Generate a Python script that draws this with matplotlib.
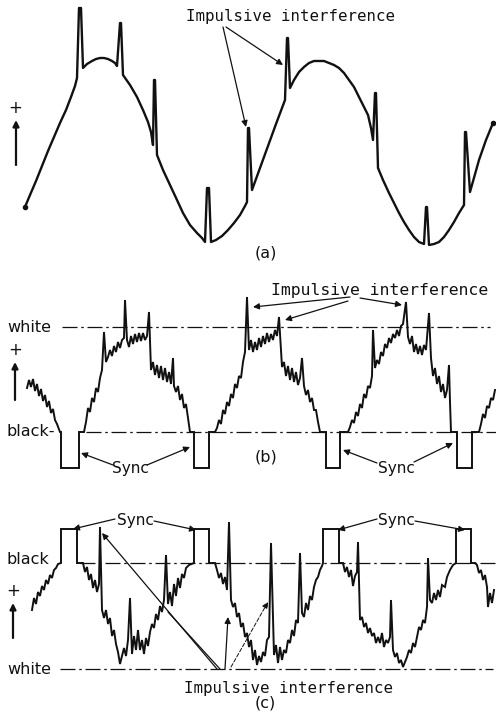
import matplotlib
matplotlib.use("Agg")
import matplotlib.pyplot as plt

# ---------------- data (page pixel coordinates) ----------------
# (a) sine wave with impulsive interference
A_pts = [(25, 207), (30, 195), (36, 181), (42, 166), (48, 151), (54, 137), (60, 123), (66, 110),
         (71, 97), (75, 86), (77, 78),
         (79, 8), (81, 8), (83, 68),
         (87, 64), (92, 61), (96, 59), (100, 58), (104, 58), (108, 59), (112, 61), (115, 63),
         (117, 66),
         (120, 23), (121, 23), (123, 75),
         (130, 85), (137, 97), (143, 110), (148, 122), (151, 132), (153, 145),
         (154, 80), (155, 80), (157, 155),
         (163, 170), (170, 185), (177, 200), (183, 213), (190, 225), (197, 233), (202, 238),
         (205, 242),
         (207, 188), (209, 188), (211, 242),
         (216, 240), (222, 236), (228, 230), (234, 223), (240, 215), (245, 206), (247, 202),
         (248, 128), (249, 128), (252, 190),
         (260, 168), (268, 146), (276, 124), (282, 108), (285, 100),
         (287, 38), (288, 38), (290, 88),
         (294, 80), (299, 72), (304, 67), (309, 63), (314, 61), (319, 61), (324, 61), (329, 63),
         (334, 65), (339, 68), (344, 73), (349, 80), (354, 87), (359, 97), (363, 105),
         (368, 115), (371, 128), (373, 140),
         (375, 93), (376, 93), (378, 168),
         (383, 180), (389, 193), (394, 203), (399, 213), (404, 222), (409, 230), (414, 237),
         (419, 242), (424, 244),
         (426, 207), (427, 207), (429, 245),
         (434, 244), (439, 242), (444, 237), (449, 230), (454, 222), (459, 213), (464, 205),
         (465, 132), (466, 132), (470, 192),
         (479, 160), (486, 140), (493, 123)]

# (b) positive video signal with sync pulses
B_pts = [(27, 388), (29, 380), (31, 387), (33, 379), (35, 391), (37, 384), (39, 396), (41, 389),
         (43, 401), (45, 395), (47, 407), (49, 401), (51, 413), (53, 409), (55, 420), (57, 424),
         (60, 432), (61, 432),
         (61, 468), (79, 468), (79, 432), (84, 432),
         (86, 422), (88, 408), (90, 412), (92, 398), (94, 402), (96, 388), (98, 392), (100, 378),
         (102, 370), (104, 332), (106, 362), (108, 357), (110, 350), (112, 356), (114, 346),
         (116, 352), (118, 342), (120, 348), (122, 340), (124, 338), (125, 300), (127, 340),
         (129, 347), (131, 336), (133, 344), (135, 334), (137, 342), (139, 333), (141, 341),
         (143, 333), (145, 340), (147, 336), (149, 312), (151, 370), (153, 362), (155, 375),
         (157, 365), (159, 378), (161, 366), (163, 380), (165, 368), (167, 382), (169, 372),
         (171, 384), (173, 358), (174, 386), (176, 392), (178, 386), (180, 400), (182, 394),
         (184, 408), (186, 404), (188, 418), (190, 432), (194, 432),
         (194, 468), (209, 468), (209, 432), (215, 432),
         (217, 428), (219, 420), (221, 424), (223, 410), (225, 414), (227, 402), (229, 406),
         (231, 394), (233, 398), (235, 384), (237, 388), (239, 376), (241, 378), (243, 362),
         (245, 352), (247, 297), (249, 350), (251, 340), (253, 352), (255, 342), (257, 350),
         (259, 338), (261, 347), (263, 336), (265, 344), (267, 333), (269, 342), (271, 334),
         (273, 340), (275, 330), (277, 336), (279, 317), (282, 367), (284, 362), (286, 376),
         (288, 366), (290, 380), (292, 368), (294, 382), (296, 372), (298, 385), (300, 378),
         (302, 358), (304, 386), (306, 395), (308, 390), (310, 402), (312, 398), (314, 410),
         (316, 410), (318, 422), (320, 432), (326, 432),
         (326, 468), (340, 468), (340, 432), (348, 432),
         (350, 427), (352, 420), (354, 423), (356, 412), (358, 416), (360, 404), (362, 408),
         (364, 394), (366, 398), (368, 386), (370, 388), (372, 376), (373, 330), (375, 368),
         (377, 360), (379, 364), (381, 352), (383, 356), (385, 344), (387, 348), (389, 338),
         (391, 343), (393, 334), (395, 338), (397, 330), (399, 336), (401, 326), (403, 324),
         (406, 302), (408, 337), (410, 344), (412, 336), (414, 352), (416, 344), (418, 354),
         (420, 346), (422, 355), (424, 345), (426, 350), (429, 313), (431, 358), (433, 376),
         (435, 368), (437, 384), (439, 376), (441, 392), (443, 384), (445, 398), (447, 390),
         (449, 365), (450, 402), (451, 432), (457, 432),
         (457, 468), (472, 468), (472, 432), (479, 432),
         (481, 424), (483, 414), (485, 418), (487, 406), (489, 408), (491, 398), (493, 400),
         (495, 390)]

# (c) negative video signal with sync pulses
C_pts = [(32, 610), (34, 598), (36, 604), (38, 592), (40, 596), (42, 586), (44, 590), (46, 580),
         (48, 584), (50, 575), (52, 578), (54, 570), (56, 568), (58, 564), (61, 563),
         (61, 529), (77, 529), (77, 563), (83, 563),
         (85, 572), (87, 567), (89, 580), (91, 574), (93, 588), (95, 580), (97, 592), (99, 584),
         (100, 527), (102, 610), (104, 618), (106, 610), (108, 624), (110, 618), (112, 636),
         (114, 630), (116, 644), (118, 652), (120, 664), (122, 656), (124, 648), (126, 656),
         (128, 640), (130, 598), (132, 654), (134, 636), (136, 650), (138, 630), (140, 650),
         (142, 640), (144, 654), (146, 638), (148, 646), (150, 632), (152, 624), (154, 628),
         (156, 614), (158, 620), (160, 606), (162, 612), (164, 600), (166, 555), (168, 604),
         (170, 592), (172, 606), (174, 584), (176, 596), (178, 578), (180, 588), (182, 574),
         (184, 578), (186, 568), (189, 565), (194, 563),
         (194, 529), (209, 529), (209, 563), (215, 563),
         (217, 570), (219, 578), (221, 573), (223, 584), (225, 577), (227, 590), (229, 522),
         (231, 600), (233, 607), (235, 603), (237, 617), (239, 613), (241, 627), (243, 623),
         (245, 637), (247, 633), (249, 647), (251, 640), (253, 660), (255, 650), (257, 665),
         (259, 656), (261, 662), (263, 652), (265, 656), (267, 640), (269, 637), (271, 543),
         (274, 655), (276, 645), (278, 663), (280, 647), (282, 660), (284, 650), (286, 653),
         (288, 640), (290, 643), (292, 630), (294, 636), (296, 620), (298, 623), (300, 553),
         (302, 613), (304, 617), (306, 603), (308, 610), (310, 596), (312, 600), (314, 587),
         (316, 580), (318, 577), (320, 570), (322, 566), (323, 563),
         (323, 529), (339, 529), (339, 563), (343, 563),
         (345, 572), (347, 567), (349, 577), (351, 570), (353, 586), (355, 576), (357, 572),
         (358, 542), (360, 620), (362, 617), (364, 627), (366, 623), (368, 633), (370, 628),
         (372, 636), (374, 633), (376, 643), (378, 637), (380, 643), (382, 633), (384, 647),
         (386, 640), (388, 643), (390, 637), (391, 600), (393, 650), (395, 657), (397, 653),
         (399, 663), (401, 660), (403, 667), (405, 662), (407, 657), (409, 650), (411, 653),
         (413, 643), (415, 647), (417, 637), (419, 627), (421, 630), (423, 620), (425, 623),
         (427, 607), (428, 558), (430, 600), (432, 603), (434, 593), (436, 600), (438, 590),
         (440, 597), (442, 585), (445, 587), (447, 577), (450, 570), (453, 565), (456, 563),
         (456, 529), (471, 529), (471, 563), (475, 563),
         (477, 565), (479, 573), (481, 570), (483, 580), (485, 575), (487, 587), (488, 607),
         (490, 593), (492, 603), (494, 590)]

# reference levels (y) and their x extents
B_white = (62, 490, 327)
B_black = (86, 496, 432)
C_black = (80, 496, 563)
C_white = (60, 493, 669)

# ---------------- drawing ----------------
fig = plt.figure(figsize=(4.96, 7.15), dpi=100)
ax = fig.add_axes([0, 0, 1, 1])
ax.set_xlim(0, 496)
ax.set_ylim(715, 0)
ax.axis('off')

K = '#111111'
MONO = 'DejaVu Sans Mono'

# clipped running text at the very top of the page (only its lower edge is visible)
ax.text(-2, 0.0, "ated of the basis.", fontsize=12, family='DejaVu Serif',
        fontweight='bold', va='baseline', ha='left', color=K)

# panel (a)
ax.plot([p[0] for p in A_pts], [p[1] for p in A_pts], color=K, lw=1.7,
        solid_joinstyle='round', solid_capstyle='round')
ax.plot([A_pts[0][0], A_pts[-1][0]], [A_pts[0][1], A_pts[-1][1]], 'o', color=K, ms=3)

# panels (b), (c)
for pts in (B_pts, C_pts):
    ax.plot([p[0] for p in pts], [p[1] for p in pts], color=K, lw=1.4,
            solid_joinstyle='miter')

# dash-dot level lines
dd = dict(color=K, lw=0.9, dashes=(12, 3, 2, 3))
for (x0, x1, y) in (B_white, B_black, C_black, C_white):
    ax.plot([x0, x1], [y, y], **dd)

# labels
ax.text(7, B_white[2], "white", fontsize=11.5, va='center', ha='left', color=K)
ax.text(7, B_black[2], "black-", fontsize=11.5, va='center', ha='left', color=K)
ax.text(7, C_black[2] - 3, "black", fontsize=11.5, va='center', ha='left', color=K)
ax.text(7, C_white[2], "white", fontsize=11.5, va='center', ha='left', color=K)

ax.text(291, 17, "Impulsive interference", fontsize=11.3, family=MONO,
        ha='center', va='center', color=K)
ax.text(380, 290, "Impulsive interference", fontsize=11.8, family=MONO,
        ha='center', va='center', color=K)
ax.text(288, 688, "Impulsive interference", fontsize=11.3, family=MONO,
        ha='center', va='center', color=K)

ax.text(266, 253, "(a)", fontsize=11.5, ha='center', va='center', color=K)
ax.text(266, 457, "(b)", fontsize=11.5, ha='center', va='center', color=K)
ax.text(265, 703, "(c)", fontsize=11.5, ha='center', va='center', color=K)

for (x, y) in ((130, 468), (396, 468), (135, 520), (396, 520)):
    ax.text(x, y, "Sync", fontsize=11, ha='center', va='center', color=K)

# '+' with upward arrows
for (px, py, ax0, ay0, ay1) in ((15, 108, 16, 165, 120), (15, 350, 15, 400, 362),
                               (13, 591, 13, 638, 603)):
    ax.text(px, py, "+", fontsize=12, ha='center', va='center', color=K)
    ax.annotate('', xy=(ax0, ay1), xytext=(ax0, ay0),
                arrowprops=dict(arrowstyle='-|>', lw=1.6, color=K, mutation_scale=9,
                                shrinkA=0, shrinkB=0))

def arrow(tail, head, lw=0.9, ls='-', head_on=True):
    style = '-|>' if head_on else '-'
    ax.annotate('', xy=head, xytext=tail,
                arrowprops=dict(arrowstyle=style, lw=lw, color=K, mutation_scale=9,
                                shrinkA=0, shrinkB=0, linestyle=ls))

# (a) interference arrows
arrow((223, 27), (246, 127))
arrow((226, 27), (283, 65))
# (b) interference arrows
arrow((350, 297), (253, 307))
arrow((348, 301), (285, 320))
arrow((360, 298), (402, 305))
# (b) sync arrows
arrow((113, 465), (81, 453))
arrow((147, 465), (190, 447))
arrow((377, 463), (343, 450))
arrow((414, 462), (453, 443))
# (c) sync arrows
arrow((115, 519), (73, 529))
arrow((154, 521), (196, 530))
arrow((377, 519), (338, 530))
arrow((415, 521), (465, 530))
# (c) interference arrows
arrow((217, 669), (102, 533))
arrow((220, 669), (168, 612), head_on=False)
arrow((225, 669), (228, 617))
arrow((231, 667), (268, 602), lw=0.7, ls=(0, (4, 2)))

fig.savefig("out.png", dpi=100)
